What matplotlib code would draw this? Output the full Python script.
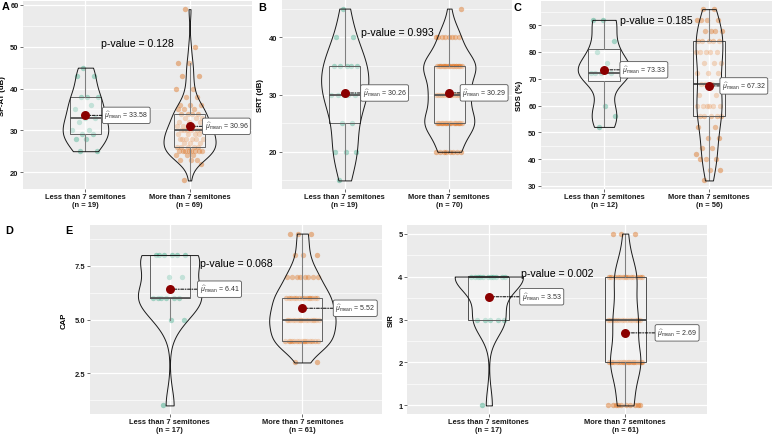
import numpy as np
import matplotlib
matplotlib.use("Agg")
import matplotlib.pyplot as plt
from matplotlib import cbook
from matplotlib.ticker import MultipleLocator, AutoMinorLocator, FormatStrFormatter

plt.rcParams['font.family'] = ['Liberation Sans', 'DejaVu Sans']
plt.rcParams['mathtext.fontset'] = 'custom'
plt.rcParams['mathtext.rm'] = 'Liberation Sans'
plt.rcParams['mathtext.it'] = 'Liberation Sans:italic'
plt.rcParams['mathtext.bf'] = 'Liberation Sans:bold'

# ---------------- data ----------------
groups = ["Less than 7 semitones", "More than 7 semitones"]

sfat_less_vals = [25, 28, 29, 30, 32, 33, 35, 36, 38, 43, 45]
sfat_less_counts = [2, 2, 2, 2, 1, 2, 1, 1, 3, 2, 1]
sfat_more_vals = [18, 22, 23, 24, 25, 26, 27, 28, 29, 30, 31, 32, 33, 34, 35, 36, 38, 40, 43, 46, 50, 59]
sfat_more_counts = [1, 1, 3, 3, 8, 5, 3, 6, 4, 6, 3, 3, 3, 4, 3, 3, 2, 2, 2, 2, 1, 1]

srt_less_vals = [15, 20, 25, 30, 35, 40, 45]
srt_less_counts = [1, 3, 2, 5, 5, 2, 1]
srt_more_vals = [20, 25, 30, 35, 40, 45]
srt_more_counts = [8, 19, 14, 20, 8, 1]

sds_less_vals = [52, 56, 60, 72, 76, 80, 84, 92]
sds_less_counts = [1, 1, 1, 4, 1, 1, 1, 2]
sds_more_vals = [32, 36, 40, 42, 44, 48, 52, 56, 60, 64, 68, 72, 76, 80, 84, 88, 92, 96]
sds_more_counts = [1, 2, 3, 1, 2, 2, 2, 5, 6, 2, 4, 3, 3, 5, 5, 4, 4, 2]

cap_less_vals = [1, 5, 6, 7, 8]
cap_less_counts = [1, 2, 6, 2, 6]
cap_more_vals = [3, 4, 5, 6, 7, 8, 9]
cap_more_counts = [2, 15, 16, 14, 8, 3, 3]

sir_less_vals = [1, 3, 4]
sir_less_counts = [1, 5, 11]
sir_more_vals = [1, 2, 3, 4, 5]
sir_more_counts = [10, 19, 15, 14, 3]

ylabels = ["SF-AT (dB)", "SRT (dB)", "SDS (%)", "CAP", "SIR"]
pvalues = ["0.128", "0.993", "0.185", "0.068", "0.002"]
pvalue_y = [51, 41, 92, 7.65, 4.08]
letters = ["A", "B", "C", "D", "E"]

# ---------------- styling ----------------
W, H = 773, 435
fig = plt.figure(figsize=(W / 100, H / 100), dpi=100)
fig.patch.set_facecolor('white')


def rect(l, t, r, b):
    return [l / W, 1 - b / H, (r - l) / W, (b - t) / H]


panels = [
    dict(px=(23, 1.6, 252, 190), data=[(sfat_less_vals, sfat_less_counts), (sfat_more_vals, sfat_more_counts)],
         step=10, fmt="%d", off=[19, 15], ylab_x=6),
    dict(px=(282, 1.0, 512, 190), data=[(srt_less_vals, srt_less_counts), (srt_more_vals, srt_more_counts)],
         step=10, fmt="%d", off=[18, 13], ylab_x=264),
    dict(px=(541, 1.6, 772, 190), data=[(sds_less_vals, sds_less_counts), (sds_more_vals, sds_more_counts)],
         step=10, fmt="%d", off=[18, 13], ylab_x=523),
    dict(px=(90, 226, 382, 415), data=[(cap_less_vals, cap_less_counts), (cap_more_vals, cap_more_counts)],
         step=2.5, fmt="%.1f", off=[30, 33], ylab_x=68),
    dict(px=(407, 226, 707, 415), data=[(sir_less_vals, sir_less_counts), (sir_more_vals, sir_more_counts)],
         step=1, fmt="%d", off=[33, 32], ylab_x=395),
]

point_colors = ['#1B9E77', '#D95F02']
positions = [1, 2]


def nrd0(x):
    x = np.asarray(x, float)
    sd = np.std(x, ddof=1)
    q75, q25 = np.percentile(x, [75, 25])
    lo = min(sd, (q75 - q25) / 1.34)
    if lo <= 0:
        lo = sd
    return 0.9 * lo * len(x) ** (-0.2)


def kde(x, coords):
    x = np.asarray(x, float)
    bw = nrd0(x)
    z = (coords[:, None] - x[None, :]) / bw
    return np.exp(-0.5 * z ** 2).sum(axis=1) / (len(x) * bw * np.sqrt(2 * np.pi))


for pi, p in enumerate(panels):
    ax = fig.add_axes(rect(*p['px']))
    ax.set_facecolor('#EBEBEB')
    for s in ax.spines.values():
        s.set_visible(False)
    datasets = [np.repeat(v, c).astype(float) for v, c in p['data']]

    # jittered points
    for gi, d in enumerate(datasets):
        k = np.arange(len(d))
        jit = 0.13 * (((k * 0.61803398875 + 0.3) % 1.0) * 2 - 1)
        ax.scatter(positions[gi] + jit, d, s=15, color=point_colors[gi], alpha=0.4,
                   linewidths=0, zorder=2)

    # boxplot
    ax.boxplot(datasets, positions=positions, widths=0.3, patch_artist=True,
               showfliers=False, showcaps=False, whis=1.5,
               boxprops=dict(facecolor=(1, 1, 1, 0.35), edgecolor='#4d4d4d', linewidth=0.7),
               whiskerprops=dict(color='#6e6e6e', linewidth=0.8),
               medianprops=dict(color='#3d3d3d', linewidth=1.3), zorder=3)

    # violins (area scaled, trimmed)
    vstats = cbook.violin_stats(datasets, kde, points=200)
    maxd = [vs['vals'].max() for vs in vstats]
    widths = [0.5 * m / max(maxd) for m in maxd]
    parts = ax.violin(vstats, positions=positions, widths=widths,
                      showmeans=False, showextrema=False, showmedians=False)
    for b in parts['bodies']:
        b.set_facecolor((1, 1, 1, 0.12))
        b.set_edgecolor('#1a1a1a')
        b.set_linewidth(0.7)
        b.set_alpha(None)
        b.set_zorder(4)

    # means
    for gi, d in enumerate(datasets):
        m = d.mean()
        ax.annotate(r'$\widehat{\mu}_{\mathrm{mean}}$' + ' = %.2f' % m,
                    xy=(positions[gi], m), xytext=(p['off'][gi] * 0.72, 0),
                    textcoords='offset points', ha='left', va='center', fontsize=5,
                    color='#333333',
                    bbox=dict(boxstyle='round,pad=0.3,rounding_size=0.25', fc='white',
                              ec='#555555', lw=0.6),
                    arrowprops=dict(arrowstyle='-', color='black', lw=0.7,
                                    linestyle=(0, (3, 1.5, 1, 1.5)),
                                    shrinkA=0, shrinkB=0), zorder=6)
        ax.scatter([positions[gi]], [m], s=42, color='#8B0000', zorder=7, linewidths=0)

    # axes
    allv = np.concatenate(datasets)
    lo, hi = allv.min(), allv.max()
    rng = hi - lo
    ax.set_ylim(lo - 0.05 * rng, hi + 0.05 * rng)
    ax.set_xlim(0.4, 2.6)
    ax.yaxis.set_major_locator(MultipleLocator(p['step']))
    ax.yaxis.set_minor_locator(AutoMinorLocator(2))
    ax.yaxis.set_major_formatter(FormatStrFormatter(p['fmt']))
    ax.set_xticks(positions)
    ax.set_xticklabels(["%s\n(n = %d)" % (g, len(d)) for g, d in zip(groups, datasets)],
                       fontsize=5.4, fontweight='bold', linespacing=1.1)
    for lab in ax.get_yticklabels():
        lab.set_fontweight('bold')
    ax.tick_params(axis='both', which='major', length=2, width=0.5, color='#333333',
                   labelsize=5.4, pad=1.2, labelcolor='#1a1a1a')
    ax.tick_params(axis='y', which='minor', length=0)
    ax.grid(True, which='major', color='white', linewidth=0.9)
    ax.grid(True, which='minor', axis='y', color='white', linewidth=0.45)
    ax.set_axisbelow(True)
    ax.set_ylabel(ylabels[pi], fontsize=5.6, fontweight='bold')
    l, t, r, b = p['px']
    ax.yaxis.set_label_coords((p['ylab_x'] - l) / (r - l), 0.5)

    ax.text(1.5, pvalue_y[pi], "p-value = " + pvalues[pi], ha='center', va='center',
            fontsize=7.6, color='black', zorder=8)

# panel letters
letter_pos = [(1.5, 7), (258, 8), (513, 8), (5, 231), (65, 231)]
for L, (x, y) in zip(letters, letter_pos):
    fig.text(x / W, 1 - y / H, L, fontsize=7.8, fontweight='bold', ha='left', va='center')

fig.savefig("out.png", dpi=100, facecolor='white')
